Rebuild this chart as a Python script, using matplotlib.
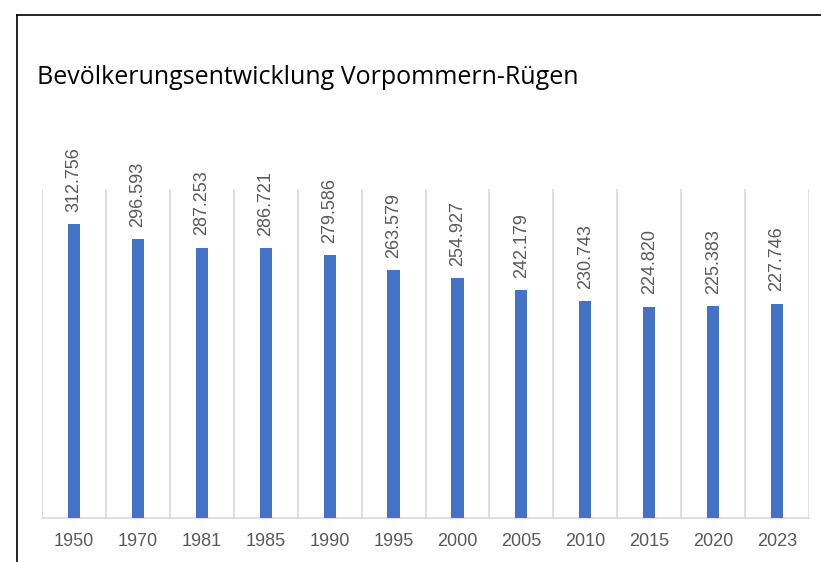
import matplotlib
matplotlib.use("Agg")
import matplotlib.pyplot as plt
from matplotlib.lines import Line2D

years = ["1950", "1970", "1981", "1985", "1990", "1995", "2000", "2005", "2010", "2015", "2020", "2023"]
population = [312.756, 296.593, 287.253, 286.721, 279.586, 263.579, 254.927, 242.179, 230.743, 224.820, 225.383, 227.746]
title = "Bevölkerungsentwicklung Vorpommern-Rügen"

W, H = 821, 562
fig = plt.figure(figsize=(W / 100, H / 100), dpi=100)
fig.patch.set_facecolor("white")

# border lines (left and top)
fig.add_artist(Line2D([17 / W, 17 / W], [0, 1 - 15 / H], transform=fig.transFigure, color="black", lw=1.2))
fig.add_artist(Line2D([17 / W, 1], [1 - 15 / H, 1 - 15 / H], transform=fig.transFigure, color="black", lw=1.2))

left, right, bottom, top = 42, 809, 518, 189
ax = fig.add_axes([left / W, 1 - bottom / H, (right - left) / W, (bottom - top) / H])
x = list(range(len(years)))
ax.bar(x, population, width=0.19, color="#4472C4", zorder=3)
ax.set_xlim(-0.5, len(years) - 0.5)
ax.set_ylim(0, 350)
for i in range(len(years) + 1):
    ax.axvline(i - 0.5, color="#d9d9d9", lw=1.2, zorder=1)
for s in ["top", "right", "left"]:
    ax.spines[s].set_visible(False)
ax.spines["bottom"].set_color("#d9d9d9")
ax.spines["bottom"].set_linewidth(1.2)
ax.set_yticks([])
ax.set_xticks(x)
ax.set_xticklabels(years, fontsize=13, color="#595959", family="Liberation Sans")
ax.tick_params(axis="x", length=0, pad=11)

for xi, v in zip(x, population):
    ax.annotate(f"{v:.3f}", (xi, v), xytext=(0, 9), textcoords="offset points",
                rotation=90, ha="center", va="bottom", fontsize=13, color="#595959",
                family="Liberation Sans")

fig.text(37 / W, 1 - 78 / H, title, fontsize=18, family="Open Sans", va="center", ha="left", color="black")

fig.savefig("out.png", dpi=100)
